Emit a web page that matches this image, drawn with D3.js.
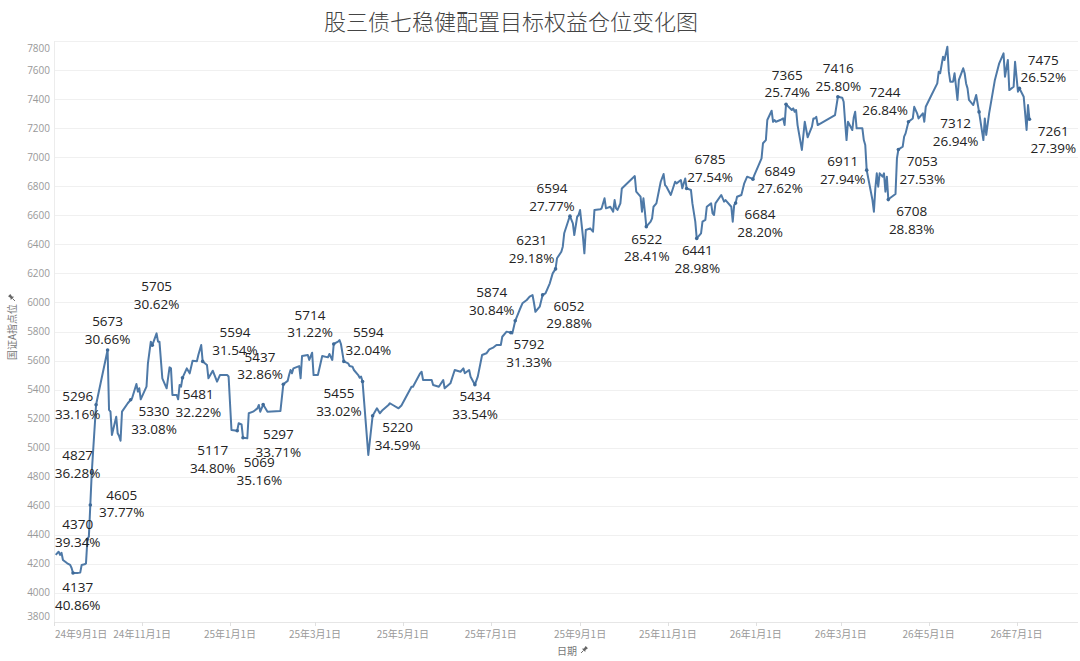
<!DOCTYPE html>
<html>
<head>
<meta charset="utf-8">
<script src="https://cdn.jsdelivr.net/npm/d3@7"></script>
<style>
  body { margin: 0; background: #fff; }
  svg { display: block; }
</style>
</head>
<body>
<div id="chart"></div>
<script>
// 国证A指 daily close
const indexSeries = [
  ["2024-09-02",4262],["2024-09-04",4284],["2024-09-05",4262],["2024-09-06",4277],["2024-09-07",4227],
  ["2024-09-10",4204],["2024-09-12",4193],["2024-09-13",4172],["2024-09-14",4137],["2024-09-17",4137],
  ["2024-09-19",4140],["2024-09-20",4193],["2024-09-22",4197],["2024-09-23",4204],["2024-09-24",4370],
  ["2024-09-25",4388],["2024-09-26",4605],["2024-09-27",4827],["2024-09-30",5296],["2024-10-08",5673],
  ["2024-10-09",5260],["2024-10-10",5248],["2024-10-11",5088],["2024-10-14",5213],["2024-10-15",5099],
  ["2024-10-16",5080],["2024-10-17",5048],["2024-10-18",5248],["2024-10-22",5306],["2024-10-24",5330],
  ["2024-10-25",5340],["2024-10-28",5439],["2024-10-29",5386],["2024-10-30",5409],["2024-10-31",5333],
  ["2024-11-04",5420],["2024-11-05",5581],["2024-11-07",5730],["2024-11-08",5705],["2024-11-11",5787],
  ["2024-11-12",5730],["2024-11-13",5730],["2024-11-15",5478],["2024-11-18",5409],["2024-11-20",5553],
  ["2024-11-21",5546],["2024-11-22",5363],["2024-11-25",5363],["2024-11-26",5333],["2024-11-27",5432],
  ["2024-11-28",5420],["2024-11-29",5481],["2024-12-02",5546],["2024-12-04",5512],["2024-12-06",5599],
  ["2024-12-09",5595],["2024-12-10",5638],["2024-12-12",5707],["2024-12-13",5594],["2024-12-16",5569],
  ["2024-12-17",5478],["2024-12-20",5530],["2024-12-23",5455],["2024-12-25",5500],["2024-12-30",5500],
  ["2024-12-31",5490],["2025-01-02",5122],["2025-01-06",5117],["2025-01-07",5168],["2025-01-09",5160],
  ["2025-01-10",5069],["2025-01-13",5065],["2025-01-14",5237],["2025-01-17",5248],["2025-01-20",5271],
  ["2025-01-21",5294],["2025-01-22",5248],["2025-01-24",5297],["2025-01-27",5248],["2025-02-05",5253],
  ["2025-02-07",5437],["2025-02-10",5460],["2025-02-11",5500],["2025-02-12",5535],["2025-02-13",5512],
  ["2025-02-14",5546],["2025-02-18",5562],["2025-02-19",5478],["2025-02-20",5631],["2025-02-24",5638],
  ["2025-02-25",5604],["2025-02-27",5654],["2025-02-28",5500],["2025-03-03",5500],["2025-03-06",5631],
  ["2025-03-10",5622],["2025-03-11",5645],["2025-03-13",5604],["2025-03-14",5714],["2025-03-17",5730],
  ["2025-03-18",5741],["2025-03-19",5714],["2025-03-21",5594],["2025-03-24",5581],["2025-03-25",5562],
  ["2025-03-27",5558],["2025-03-28",5535],["2025-03-31",5500],["2025-04-01",5482],["2025-04-02",5489],
  ["2025-04-03",5455],["2025-04-07",4950],["2025-04-10",5220],["2025-04-13",5271],["2025-04-15",5237],
  ["2025-04-17",5260],["2025-04-21",5294],["2025-04-22",5306],["2025-04-24",5294],["2025-04-28",5271],
  ["2025-04-30",5290],["2025-05-07",5420],["2025-05-08",5420],["2025-05-13",5512],["2025-05-14",5523],
  ["2025-05-15",5466],["2025-05-21",5466],["2025-05-22",5432],["2025-05-26",5420],["2025-05-29",5466],
  ["2025-05-30",5409],["2025-06-03",5443],["2025-06-06",5535],["2025-06-10",5523],["2025-06-12",5546],
  ["2025-06-13",5512],["2025-06-16",5535],["2025-06-17",5489],["2025-06-20",5434],["2025-06-22",5489],
  ["2025-06-25",5638],["2025-06-28",5650],["2025-06-30",5677],["2025-07-03",5691],["2025-07-05",5707],
  ["2025-07-08",5707],["2025-07-09",5764],["2025-07-12",5799],["2025-07-15",5792],["2025-07-16",5787],
  ["2025-07-18",5874],["2025-07-21",5948],["2025-07-23",5994],["2025-07-26",6017],["2025-07-28",6040],
  ["2025-07-30",6051],["2025-07-31",5998],["2025-08-01",5936],["2025-08-04",5971],["2025-08-06",6052],
  ["2025-08-08",6063],["2025-08-11",6132],["2025-08-13",6200],["2025-08-15",6231],["2025-08-16",6304],
  ["2025-08-19",6349],["2025-08-20",6384],["2025-08-21",6476],["2025-08-24",6568],["2025-08-25",6594],
  ["2025-08-27",6544],["2025-08-28",6464],["2025-08-30",6590],["2025-08-31",6602],["2025-09-01",6637],
  ["2025-09-03",6453],["2025-09-04",6338],["2025-09-05",6499],["2025-09-08",6510],["2025-09-10",6487],
  ["2025-09-11",6637],["2025-09-15",6641],["2025-09-16",6648],["2025-09-18",6717],["2025-09-19",6648],
  ["2025-09-22",6659],["2025-09-24",6625],["2025-09-25",6705],["2025-09-26",6648],["2025-09-27",6637],
  ["2025-09-29",6682],["2025-09-30",6785],["2025-10-09",6870],["2025-10-10",6763],["2025-10-13",6728],
  ["2025-10-14",6625],["2025-10-15",6717],["2025-10-16",6625],["2025-10-17",6522],["2025-10-20",6556],
  ["2025-10-21",6579],["2025-10-22",6659],["2025-10-24",6682],["2025-10-27",6831],["2025-10-29",6884],
  ["2025-10-30",6808],["2025-10-31",6797],["2025-11-03",6740],["2025-11-06",6831],["2025-11-07",6820],
  ["2025-11-10",6843],["2025-11-11",6786],["2025-11-13",6854],["2025-11-14",6785],["2025-11-17",6774],
  ["2025-11-18",6682],["2025-11-20",6556],["2025-11-21",6441],["2025-11-24",6476],["2025-11-25",6556],
  ["2025-11-27",6568],["2025-11-28",6659],["2025-12-01",6682],["2025-12-02",6613],["2025-12-03",6602],
  ["2025-12-04",6682],["2025-12-08",6740],["2025-12-10",6694],["2025-12-11",6705],["2025-12-15",6659],
  ["2025-12-16",6556],["2025-12-17",6670],["2025-12-18",6684],["2025-12-19",6728],["2025-12-22",6740],
  ["2025-12-24",6820],["2025-12-26",6866],["2025-12-29",6854],["2025-12-30",6849],["2025-12-31",6877],
  ["2026-01-03",6946],["2026-01-05",6992],["2026-01-06",7096],["2026-01-08",7118],["2026-01-09",7256],
  ["2026-01-12",7320],["2026-01-13",7244],["2026-01-14",7256],["2026-01-15",7244],["2026-01-18",7256],
  ["2026-01-20",7267],["2026-01-21",7221],["2026-01-22",7365],["2026-01-26",7325],["2026-01-27",7336],
  ["2026-01-28",7313],["2026-01-29",7325],["2026-01-30",7221],["2026-02-02",7050],["2026-02-04",7244],
  ["2026-02-06",7137],["2026-02-09",7210],["2026-02-10",7267],["2026-02-11",7267],["2026-02-12",7278],
  ["2026-02-13",7221],["2026-02-25",7290],["2026-02-27",7416],["2026-03-02",7410],["2026-03-03",7382],
  ["2026-03-04",7244],["2026-03-05",7118],["2026-03-06",7244],["2026-03-09",7187],["2026-03-10",7274],
  ["2026-03-11",7313],["2026-03-12",7199],["2026-03-16",7199],["2026-03-17",7118],["2026-03-18",7084],
  ["2026-03-19",6911],["2026-03-23",6705],["2026-03-24",6625],["2026-03-25",6785],["2026-03-26",6889],
  ["2026-03-27",6797],["2026-03-28",6889],["2026-03-30",6866],["2026-03-31",6889],["2026-04-01",6763],
  ["2026-04-02",6866],["2026-04-03",6708],["2026-04-04",6717],["2026-04-08",6747],["2026-04-09",6992],
  ["2026-04-10",7053],["2026-04-13",7073],["2026-04-14",7141],["2026-04-15",7164],["2026-04-17",7244],
  ["2026-04-20",7267],["2026-04-21",7347],["2026-04-23",7302],["2026-04-24",7267],["2026-04-27",7302],
  ["2026-04-28",7244],["2026-04-29",7347],["2026-05-03",7428],["2026-05-07",7508],["2026-05-08",7589],
  ["2026-05-09",7578],["2026-05-11",7692],["2026-05-12",7669],["2026-05-14",7760],["2026-05-15",7589],
  ["2026-05-16",7520],["2026-05-18",7520],["2026-05-19",7578],["2026-05-21",7394],["2026-05-22",7532],
  ["2026-05-25",7612],["2026-05-26",7578],["2026-05-27",7508],["2026-05-28",7474],["2026-05-29",7394],
  ["2026-06-01",7359],["2026-06-03",7428],["2026-06-05",7312],["2026-06-08",7118],["2026-06-09",7267],
  ["2026-06-10",7153],["2026-06-12",7302],["2026-06-16",7532],["2026-06-19",7646],["2026-06-22",7715],
  ["2026-06-23",7554],["2026-06-25",7669],["2026-06-26",7462],["2026-06-29",7485],["2026-06-30",7657],
  ["2026-07-02",7451],["2026-07-03",7475],["2026-07-06",7416],["2026-07-07",7302],["2026-07-08",7188],
  ["2026-07-09",7359],["2026-07-10",7261]
];

// annotated points: index level + target equity weight
const annoDates = ["2024-09-14","2024-09-24","2024-09-26","2024-09-27","2024-09-30","2024-10-08",
  "2024-11-08","2024-10-24","2024-11-29","2024-12-13","2025-01-06","2025-01-10","2025-01-24",
  "2025-02-07","2025-03-14","2025-03-21","2025-04-03","2025-04-10","2025-06-20","2025-07-15",
  "2025-07-18","2025-08-06","2025-08-15","2025-08-25","2025-10-17","2025-11-14","2025-11-21",
  "2025-12-18","2025-12-30","2026-01-22","2026-02-27","2026-03-19","2026-04-03","2026-04-10",
  "2026-04-17","2026-06-05","2026-07-03","2026-07-10"];
const annoValues = [4137,4370,4605,4827,5296,5673,5705,5330,5481,5594,5117,5069,5297,5437,5714,5594,
  5455,5220,5434,5792,5874,6052,6231,6594,6522,6785,6441,6684,6849,7365,7416,6911,6708,7053,7244,
  7312,7475,7261];
const annoPcts = ["40.86%","39.34%","37.77%","36.28%","33.16%","30.66%","30.62%","33.08%","32.22%",
  "31.54%","34.80%","35.16%","33.71%","32.86%","31.22%","32.04%","33.02%","34.59%","33.54%","31.33%",
  "30.84%","29.88%","29.18%","27.77%","28.41%","27.54%","28.98%","28.20%","27.62%","25.74%","25.80%",
  "27.94%","28.83%","27.53%","26.84%","26.94%","26.52%","27.39%"];
// where each annotation text sits relative to its point (layout only)
const labelOffsets = [[4.7,14.2],[-9.7,-14.9],[31.4,-10.1],[-14.1,-17.2],[-18.4,-8],[0,-28.3],
  [4.4,-58.6],[23.4,11.9],[15.8,16.5],[32.3,-29.1],[-24.5,20],[16.3,24.6],[15.2,29.7],[-23.3,-27.2],
  [-23.7,-29],[24.5,-28.7],[-23.6,11.7],[25,11.5],[0.1,12],[18.1,11.6],[-23.5,-28.4],[26.4,11.1],
  [-23.9,-28.2],[-18,-27.8],[0.5,12.4],[23.4,-29.1],[0.6,12.3],[24.4,11.2],[27.1,-8.1],[1.2,-29.1],
  [0.4,-28.4],[-24,-8.4],[23.4,12.1],[23.9,12.2],[-23.4,-29],[-23.4,11.5],[23.9,-28.2],[23.8,11.5]];

const yTicks = d3.range(3800, 7801, 200);
const xTickDates = ["2024-09-01","2024-11-01","2025-01-01","2025-03-01","2025-05-01","2025-07-01",
  "2025-09-01","2025-11-01","2026-01-01","2026-03-01","2026-05-01","2026-07-01"];

const width = 1080, height = 661;
const plotLeft = 55, plotRight = 1078, plotTop = 41, plotBottom = 622;
const lineColor = "#4e79a7";
const latin = "'Open Sans', 'Noto Sans CJK SC', sans-serif";
const cjk = "'Noto Sans CJK SC', sans-serif";

const parse = d3.utcParse("%Y-%m-%d");
const data = indexSeries.map(d => ({date: parse(d[0]), value: d[1]}));

const x = d3.scaleUtc()
  .domain([parse("2024-09-01"), parse("2026-07-01")])
  .range([54.3, 1016.5]);
const y = d3.scaleLinear()
  .domain([3800, 7800])
  .range([plotBottom, plotTop]);

const svg = d3.select("#chart").append("svg")
  .attr("width", width)
  .attr("height", height)
  .style("background", "#fff");

// title
svg.append("text")
  .attr("x", 511).attr("y", 30)
  .attr("text-anchor", "middle")
  .style("font-family", cjk)
  .style("font-size", "22px")
  .style("font-weight", 300)
  .style("fill", "#444")
  .text("股三债七稳健配置目标权益仓位变化图");

// horizontal grid
svg.append("g")
  .selectAll("line")
  .data(yTicks)
  .enter()
  .append("line")
  .attr("x1", plotLeft).attr("x2", plotRight)
  .attr("y1", d => Math.round(y(d)) + 0.5)
  .attr("y2", d => Math.round(y(d)) + 0.5)
  .attr("stroke", "#f0f0f0");

// axis lines
svg.append("line")
  .attr("x1", plotLeft - 0.5).attr("x2", plotLeft - 0.5)
  .attr("y1", plotTop).attr("y2", plotBottom)
  .attr("stroke", "#ececec");
svg.append("line")
  .attr("x1", plotLeft).attr("x2", plotRight)
  .attr("y1", plotBottom + 0.5).attr("y2", plotBottom + 0.5)
  .attr("stroke", "#e6e6e6");

// y labels (kept inside the pane like the original)
svg.append("g")
  .selectAll("text")
  .data(yTicks)
  .enter()
  .append("text")
  .attr("x", 50)
  .attr("y", d => Math.max(48, Math.min(616, y(d))))
  .attr("dy", "0.35em")
  .attr("text-anchor", "end")
  .style("font-family", latin)
  .style("font-size", "10px")
  .style("fill", "#999")
  .text(d => d);

// x ticks + labels
const fmtTick = d => `${String(d.getUTCFullYear()).slice(2)}年${d.getUTCMonth() + 1}月${d.getUTCDate()}日`;
const xt = svg.append("g").selectAll("g")
  .data(xTickDates.map(parse))
  .enter()
  .append("g");
xt.append("line")
  .attr("x1", d => Math.round(x(d)) + 0.5).attr("x2", d => Math.round(x(d)) + 0.5)
  .attr("y1", plotBottom).attr("y2", plotBottom + 4)
  .attr("stroke", "#e0e0e0");
xt.append("text")
  .attr("x", (d, i) => i === 0 ? plotLeft : x(d))
  .attr("y", 634)
  .attr("dy", "0.35em")
  .attr("text-anchor", (d, i) => i === 0 ? "start" : "middle")
  .style("font-family", cjk)
  .style("font-size", "10px")
  .style("fill", "#999")
  .text(fmtTick);

// small pushpin glyph used next to the axis titles
function pin(g) {
  g.append("path")
    .attr("d", "M-1.6,-4 L1.6,-4 L1.1,-1 L2.4,0.6 L-2.4,0.6 L-1.1,-1 Z")
    .attr("fill", "#666");
  g.append("line")
    .attr("x1", 0).attr("x2", 0).attr("y1", 0.6).attr("y2", 4.2)
    .attr("stroke", "#666").attr("stroke-width", 0.9);
}

// axis titles
svg.append("text")
  .attr("transform", "translate(12,332) rotate(-90)")
  .attr("text-anchor", "middle")
  .attr("dy", "0.35em")
  .style("font-family", cjk)
  .style("font-size", "10px")
  .style("fill", "#777")
  .text("国证A指点位");
svg.append("g").attr("transform", "translate(12,298) rotate(-45)").call(pin);

svg.append("text")
  .attr("x", 567).attr("y", 651)
  .attr("text-anchor", "middle")
  .attr("dy", "0.35em")
  .style("font-family", cjk)
  .style("font-size", "10px")
  .style("fill", "#777")
  .text("日期");
svg.append("g").attr("transform", "translate(584,650) rotate(45)").call(pin);

// index line
const line = d3.line()
  .x(d => x(d.date))
  .y(d => y(d.value));
svg.append("path")
  .datum(data)
  .attr("d", line)
  .attr("fill", "none")
  .attr("stroke", lineColor)
  .attr("stroke-width", 2)
  .attr("stroke-linejoin", "round");

// annotations
const annos = annoDates.map((d, i) => ({
  date: parse(d), value: annoValues[i], pct: annoPcts[i],
  dx: labelOffsets[i][0], dy: labelOffsets[i][1]
}));

svg.append("g")
  .selectAll("circle")
  .data(annos)
  .enter()
  .append("circle")
  .attr("cx", d => x(d.date))
  .attr("cy", d => y(d.value))
  .attr("r", 1.8)
  .attr("fill", "#3f6a98");

const lab = svg.append("g")
  .selectAll("text")
  .data(annos)
  .enter()
  .append("text")
  .attr("text-anchor", "middle")
  .style("font-family", latin)
  .style("font-size", "13.5px")
  .style("fill", "#222");
lab.append("tspan")
  .attr("x", d => x(d.date) + d.dx)
  .attr("y", d => y(d.value) + d.dy)
  .attr("dy", "0.35em")
  .text(d => d.value);
lab.append("tspan")
  .attr("x", d => x(d.date) + d.dx)
  .attr("y", d => y(d.value) + d.dy + 17.6)
  .attr("dy", "0.35em")
  .text(d => d.pct);
</script>
</body>
</html>
